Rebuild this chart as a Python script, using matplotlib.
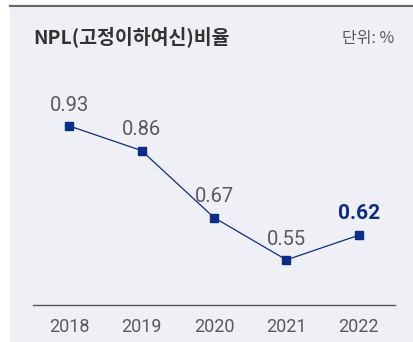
import matplotlib
matplotlib.use("Agg")
import matplotlib.pyplot as plt
from matplotlib.patches import Rectangle
from matplotlib.lines import Line2D

plt.rcParams['font.family'] = ['Roboto', 'Noto Sans CJK KR', 'DejaVu Sans']

years = ["2018", "2019", "2020", "2021", "2022"]
npl_ratio = [0.93, 0.86, 0.67, 0.55, 0.62]

title = "NPL(고정이하여신)비율"
unit = "단위: %"

navy = "#0b2d88"
gray_text = "#5a5a5a"
bg = "#eff0f5"

W, H = 413, 342
fig = plt.figure(figsize=(W / 100, H / 100), dpi=100)
fig.patch.set_facecolor("white")

# background card and top rule
fig.patches.append(Rectangle((10 / W, 0 / H), 1 - 10 / W, (H - 6) / H - 2 / H,
                             transform=fig.transFigure, facecolor=bg,
                             edgecolor="none", zorder=-5))
fig.lines.append(Line2D([10 / W, 1], [(H - 5.5) / H, (H - 5.5) / H],
                        transform=fig.transFigure, color="#666666", lw=1.6))

fig.text(33 / W, (H - 43) / H, title, fontsize=14, fontweight="bold",
         color="#333333", family=['Noto Sans CJK KR', 'DejaVu Sans'], va="baseline")
fig.text(394 / W, (H - 43) / H, unit, fontsize=11.5, color=gray_text,
         family=['Noto Sans CJK KR', 'DejaVu Sans'], ha="right", va="baseline")

ax = fig.add_axes([33 / W, (H - 305) / H, 362 / W, 245 / H])
ax.set_zorder(2)
ax.set_facecolor("none")
x = list(range(len(years)))
ax.plot(x, npl_ratio, color=navy, lw=0.9, marker="s", markersize=6,
        markerfacecolor=navy, markeredgecolor=navy, zorder=3)

ax.set_xlim(-0.5, 4.5)
ax.set_ylim(0.422, 1.117)

for i, v in enumerate(npl_ratio):
    last = i == len(npl_ratio) - 1
    ax.annotate(f"{v:.2f}", (i, v), xytext=(0, 11 if not last else 12),
                textcoords="offset points", ha="center", va="baseline",
                fontsize=14.5 if not last else 15,
                fontweight="bold" if last else "normal",
                color=navy if last else gray_text)

for s in ["top", "right", "left"]:
    ax.spines[s].set_visible(False)
ax.spines["bottom"].set_color("#555555")
ax.spines["bottom"].set_linewidth(1.0)
ax.set_yticks([])
ax.set_xticks(x)
ax.set_xticklabels(years, fontsize=13, color=gray_text)
ax.tick_params(axis="x", length=0, pad=9)

fig.savefig("out.png", dpi=100)
